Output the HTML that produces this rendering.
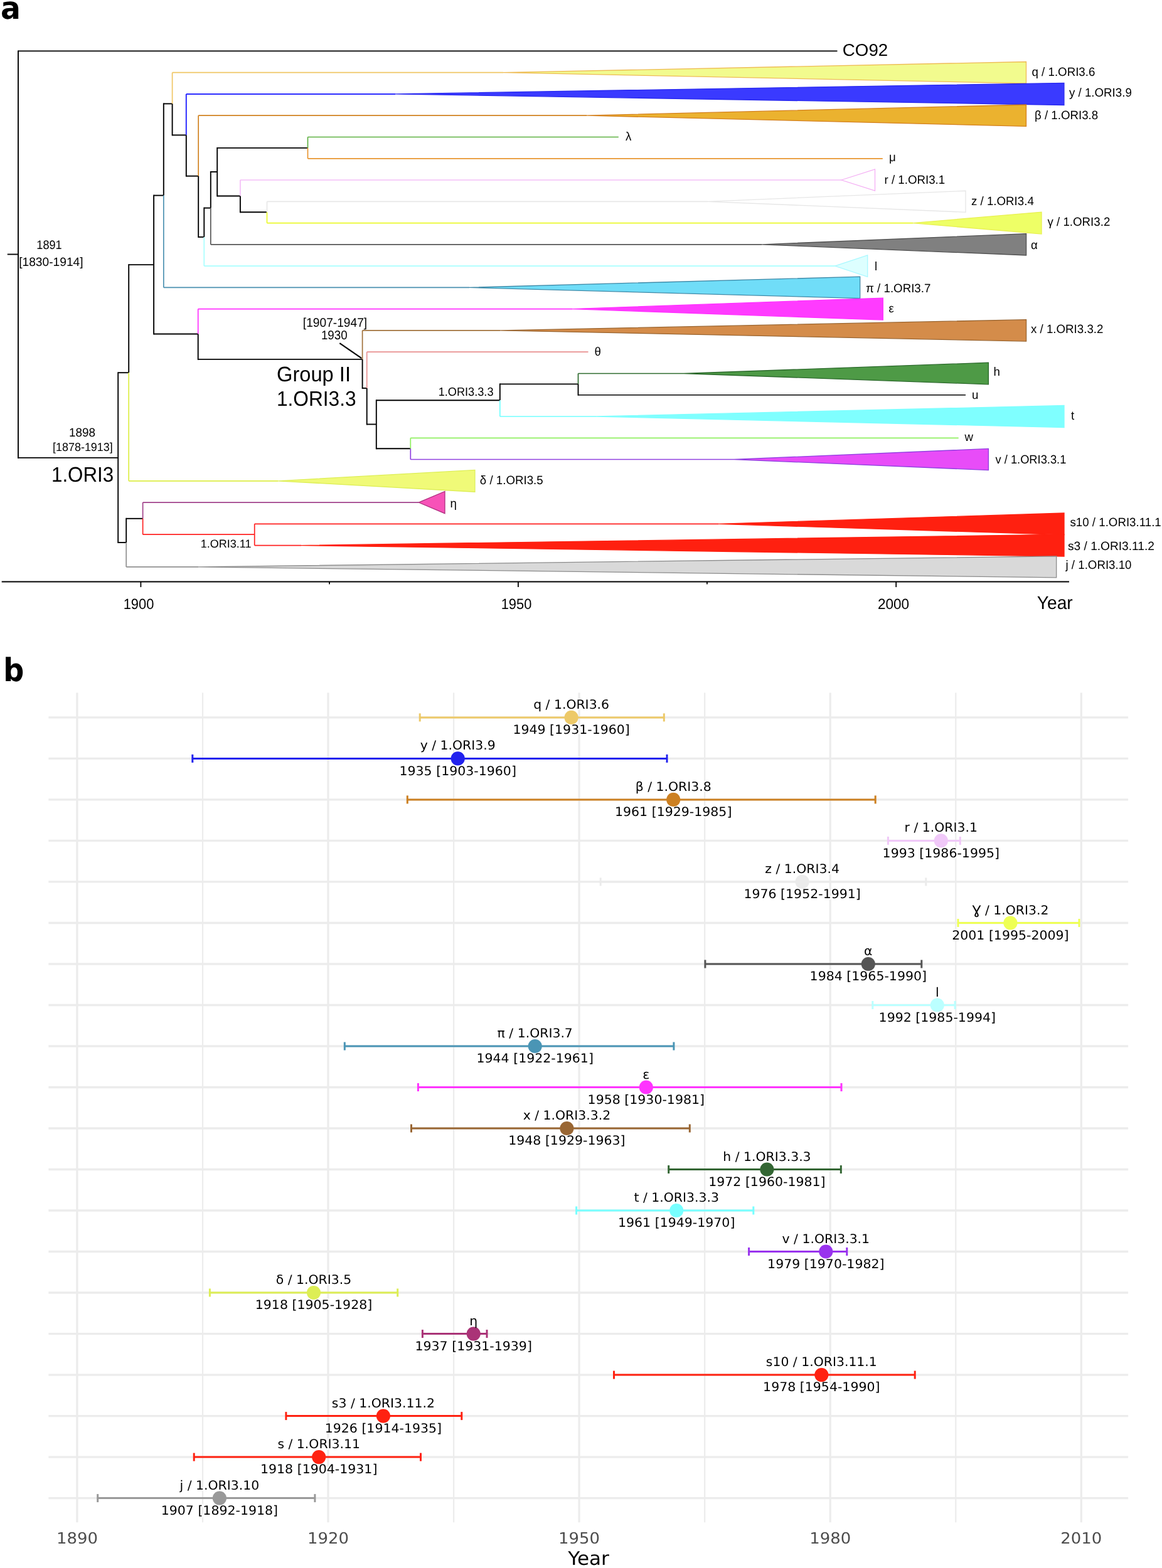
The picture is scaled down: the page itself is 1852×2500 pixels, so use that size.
<!DOCTYPE html>
<html><head><meta charset="utf-8"><title>Figure</title>
<style>html,body{margin:0;padding:0;background:#fff;} svg{display:block;} text{text-rendering:geometricPrecision;}</style>
</head><body>
<svg width="1852" height="2500" viewBox="0 0 1852 2500">
<rect width="1852" height="2500" fill="#fff"/>
<g id="panelA">
<polygon points="802.0,115.7 1635.5,98.5 1635.5,132.9" fill="#F2FB8E" stroke="#EEBB55" stroke-width="1.3" stroke-linejoin="miter"/>
<polygon points="630.0,149.9 1695.9,132.3 1695.9,167.5" fill="#3A3AFF" stroke="#2828F0" stroke-width="1.3" stroke-linejoin="miter"/>
<polygon points="935.0,184.2 1635.5,167.0 1635.5,201.4" fill="#EBB22F" stroke="#D4801E" stroke-width="1.3" stroke-linejoin="miter"/>
<polygon points="1341.0,287.0 1394.5,270.0 1394.5,304.0" fill="#FFFFFF" stroke="#F4B0F4" stroke-width="1.3" stroke-linejoin="miter"/>
<polygon points="1128.0,321.3 1539.0,304.3 1539.0,338.3" fill="#FFFFFF" stroke="#E6E6E6" stroke-width="1.3" stroke-linejoin="miter"/>
<polygon points="1455.0,355.6 1660.0,338.1 1660.0,373.1" fill="#EEFF66" stroke="#E8F050" stroke-width="1.3" stroke-linejoin="miter"/>
<polygon points="1214.0,389.8 1635.6,372.6 1635.6,407.0" fill="#808080" stroke="#505050" stroke-width="1.3" stroke-linejoin="miter"/>
<polygon points="1330.7,424.1 1382.7,406.9 1382.7,441.3" fill="#DDFFFF" stroke="#A8F8FF" stroke-width="1.3" stroke-linejoin="miter"/>
<polygon points="748.0,458.4 1370.7,441.2 1370.7,475.6" fill="#70DDF8" stroke="#3F8AA8" stroke-width="1.3" stroke-linejoin="miter"/>
<polygon points="912.0,492.6 1407.3,475.1 1407.3,510.1" fill="#FF3BFF" stroke="#FF30FF" stroke-width="1.3" stroke-linejoin="miter"/>
<polygon points="797.0,526.9 1635.6,509.7 1635.6,544.1" fill="#D48C4A" stroke="#9A6530" stroke-width="1.3" stroke-linejoin="miter"/>
<polygon points="1090.0,595.5 1575.4,578.2 1575.4,612.8" fill="#4E9A46" stroke="#2C6A2C" stroke-width="1.3" stroke-linejoin="miter"/>
<polygon points="950.0,664.0 1696.0,646.5 1696.0,681.5" fill="#7FFFFF" stroke="#7FFFFF" stroke-width="1.3" stroke-linejoin="miter"/>
<polygon points="1170.0,732.5 1575.4,715.4 1575.4,749.6" fill="#E84CF8" stroke="#9040E0" stroke-width="1.3" stroke-linejoin="miter"/>
<polygon points="443.0,766.8 756.9,749.4 756.9,784.2" fill="#F0FA78" stroke="#DDEE55" stroke-width="1.3" stroke-linejoin="miter"/>
<polygon points="667.2,801.1 709.0,783.5 709.0,818.7" fill="#F752B8" stroke="#B03080" stroke-width="1.3" stroke-linejoin="miter"/>
<polygon points="1145.0,835.3 1696.0,818.0 1696.0,852.6" fill="#FF2010" stroke="#FF2010" stroke-width="1.3" stroke-linejoin="miter"/>
<polygon points="480.0,869.6 1696.0,852.1 1696.0,887.1" fill="#FF2010" stroke="#FF2010" stroke-width="1.3" stroke-linejoin="miter"/>
<polygon points="316.0,903.9 1683.7,886.9 1683.7,920.9" fill="#D9D9D9" stroke="#8C8C8C" stroke-width="1.3" stroke-linejoin="miter"/>
<line x1="11.8" y1="405.5" x2="29.0" y2="405.5" stroke="#000" stroke-width="1.9"/>
<line x1="29.0" y1="80.4" x2="29.0" y2="730.9" stroke="#000" stroke-width="1.9"/>
<line x1="29.0" y1="81.4" x2="1334.5" y2="81.4" stroke="#000" stroke-width="1.9"/>
<line x1="29.0" y1="729.9" x2="188.2" y2="729.9" stroke="#000" stroke-width="1.9"/>
<line x1="188.2" y1="593.2" x2="188.2" y2="866.0" stroke="#000" stroke-width="1.9"/>
<line x1="188.2" y1="594.2" x2="205.2" y2="594.2" stroke="#000" stroke-width="1.9"/>
<line x1="205.2" y1="421.1" x2="205.2" y2="594.2" stroke="#000" stroke-width="1.9"/>
<line x1="205.2" y1="594.2" x2="205.2" y2="766.8" stroke="#DDEE44" stroke-width="1.7"/>
<line x1="205.2" y1="766.8" x2="443.0" y2="766.8" stroke="#DDEE44" stroke-width="1.7"/>
<line x1="205.2" y1="422.1" x2="245.1" y2="422.1" stroke="#000" stroke-width="1.9"/>
<line x1="245.1" y1="310.6" x2="245.1" y2="533.5" stroke="#000" stroke-width="1.9"/>
<line x1="245.1" y1="311.6" x2="260.8" y2="311.6" stroke="#000" stroke-width="1.9"/>
<line x1="260.8" y1="164.4" x2="260.8" y2="311.6" stroke="#000" stroke-width="1.9"/>
<line x1="260.8" y1="311.6" x2="260.8" y2="458.4" stroke="#4A90B0" stroke-width="1.7"/>
<line x1="260.8" y1="458.4" x2="748.0" y2="458.4" stroke="#4A90B0" stroke-width="1.7"/>
<line x1="260.8" y1="165.4" x2="274.6" y2="165.4" stroke="#000" stroke-width="1.9"/>
<line x1="274.6" y1="115.7" x2="274.6" y2="165.4" stroke="#EFC664" stroke-width="1.7"/>
<line x1="274.6" y1="165.4" x2="274.6" y2="216.4" stroke="#000" stroke-width="1.9"/>
<line x1="274.6" y1="115.7" x2="802.0" y2="115.7" stroke="#EFC664" stroke-width="1.7"/>
<line x1="274.6" y1="215.4" x2="296.8" y2="215.4" stroke="#000" stroke-width="1.9"/>
<line x1="296.8" y1="149.9" x2="296.8" y2="215.4" stroke="#2B2BFF" stroke-width="2.0"/>
<line x1="296.8" y1="215.4" x2="296.8" y2="281.7" stroke="#000" stroke-width="1.9"/>
<line x1="296.8" y1="149.9" x2="630.0" y2="149.9" stroke="#2B2BFF" stroke-width="2.0"/>
<line x1="296.8" y1="280.7" x2="316.2" y2="280.7" stroke="#000" stroke-width="1.9"/>
<line x1="316.2" y1="184.2" x2="316.2" y2="280.7" stroke="#D0801E" stroke-width="1.7"/>
<line x1="316.2" y1="280.7" x2="316.2" y2="378.9" stroke="#000" stroke-width="1.9"/>
<line x1="316.2" y1="184.2" x2="935.0" y2="184.2" stroke="#D0801E" stroke-width="1.7"/>
<line x1="316.2" y1="377.9" x2="325.3" y2="377.9" stroke="#000" stroke-width="1.9"/>
<line x1="325.3" y1="330.6" x2="325.3" y2="377.9" stroke="#000" stroke-width="1.9"/>
<line x1="325.3" y1="377.9" x2="325.3" y2="424.1" stroke="#A8FFFF" stroke-width="1.7"/>
<line x1="325.3" y1="424.1" x2="1330.7" y2="424.1" stroke="#A8FFFF" stroke-width="1.7"/>
<line x1="325.3" y1="331.6" x2="335.8" y2="331.6" stroke="#000" stroke-width="1.9"/>
<line x1="335.8" y1="273.0" x2="335.8" y2="331.6" stroke="#000" stroke-width="1.9"/>
<line x1="335.8" y1="331.6" x2="335.8" y2="389.8" stroke="#555555" stroke-width="1.7"/>
<line x1="335.8" y1="389.8" x2="1214.0" y2="389.8" stroke="#555555" stroke-width="1.7"/>
<line x1="335.8" y1="274.0" x2="346.2" y2="274.0" stroke="#000" stroke-width="1.9"/>
<line x1="346.2" y1="234.9" x2="346.2" y2="313.5" stroke="#000" stroke-width="1.9"/>
<line x1="346.2" y1="235.9" x2="490.5" y2="235.9" stroke="#000" stroke-width="1.9"/>
<line x1="490.5" y1="218.5" x2="490.5" y2="235.9" stroke="#5DB040" stroke-width="1.7"/>
<line x1="490.5" y1="235.9" x2="490.5" y2="252.8" stroke="#E8952E" stroke-width="1.7"/>
<line x1="490.5" y1="218.5" x2="985.8" y2="218.5" stroke="#5DB040" stroke-width="1.7"/>
<line x1="490.5" y1="252.8" x2="1406.8" y2="252.8" stroke="#E8952E" stroke-width="1.7"/>
<line x1="346.2" y1="312.5" x2="382.9" y2="312.5" stroke="#000" stroke-width="1.9"/>
<line x1="382.9" y1="287.0" x2="382.9" y2="312.5" stroke="#F5BEF8" stroke-width="1.7"/>
<line x1="382.9" y1="312.5" x2="382.9" y2="339.3" stroke="#000" stroke-width="1.9"/>
<line x1="382.9" y1="287.0" x2="1341.0" y2="287.0" stroke="#F5BEF8" stroke-width="1.7"/>
<line x1="382.9" y1="338.3" x2="425.5" y2="338.3" stroke="#000" stroke-width="1.9"/>
<line x1="425.5" y1="321.3" x2="425.5" y2="338.3" stroke="#E8E8E8" stroke-width="1.7"/>
<line x1="425.5" y1="338.3" x2="425.5" y2="355.6" stroke="#EAFA2A" stroke-width="1.7"/>
<line x1="425.5" y1="321.3" x2="1128.0" y2="321.3" stroke="#E8E8E8" stroke-width="1.7"/>
<line x1="425.5" y1="355.6" x2="1455.0" y2="355.6" stroke="#EAFA2A" stroke-width="1.7"/>
<line x1="245.1" y1="532.5" x2="315.7" y2="532.5" stroke="#000" stroke-width="1.9"/>
<line x1="315.7" y1="492.6" x2="315.7" y2="532.5" stroke="#FF30FF" stroke-width="1.7"/>
<line x1="315.7" y1="532.5" x2="315.7" y2="573.9" stroke="#000" stroke-width="1.9"/>
<line x1="315.7" y1="492.6" x2="912.0" y2="492.6" stroke="#FF30FF" stroke-width="1.7"/>
<line x1="315.7" y1="572.9" x2="577.6" y2="572.9" stroke="#000" stroke-width="1.9"/>
<line x1="577.6" y1="526.9" x2="577.6" y2="572.9" stroke="#A0703A" stroke-width="1.7"/>
<line x1="577.6" y1="572.9" x2="577.6" y2="619.9" stroke="#000" stroke-width="1.9"/>
<line x1="577.6" y1="526.9" x2="797.0" y2="526.9" stroke="#A0703A" stroke-width="1.7"/>
<line x1="577.6" y1="618.9" x2="584.7" y2="618.9" stroke="#000" stroke-width="1.9"/>
<line x1="584.7" y1="561.2" x2="584.7" y2="618.9" stroke="#E89090" stroke-width="1.7"/>
<line x1="584.7" y1="618.9" x2="584.7" y2="677.5" stroke="#000" stroke-width="1.9"/>
<line x1="584.7" y1="561.2" x2="937.5" y2="561.2" stroke="#E89090" stroke-width="1.7"/>
<line x1="584.7" y1="676.5" x2="599.8" y2="676.5" stroke="#000" stroke-width="1.9"/>
<line x1="599.8" y1="637.2" x2="599.8" y2="716.3" stroke="#000" stroke-width="1.9"/>
<line x1="599.8" y1="638.2" x2="796.8" y2="638.2" stroke="#000" stroke-width="1.9"/>
<line x1="796.8" y1="611.4" x2="796.8" y2="638.2" stroke="#000" stroke-width="1.9"/>
<line x1="796.8" y1="638.2" x2="796.8" y2="664.0" stroke="#70FFFF" stroke-width="1.7"/>
<line x1="796.8" y1="664.0" x2="950.0" y2="664.0" stroke="#70FFFF" stroke-width="1.7"/>
<line x1="796.8" y1="612.4" x2="921.5" y2="612.4" stroke="#000" stroke-width="1.9"/>
<line x1="921.5" y1="595.5" x2="921.5" y2="612.4" stroke="#2C6A2C" stroke-width="1.7"/>
<line x1="921.5" y1="612.4" x2="921.5" y2="630.7" stroke="#000" stroke-width="1.9"/>
<line x1="921.5" y1="595.5" x2="1090.0" y2="595.5" stroke="#2C6A2C" stroke-width="1.7"/>
<line x1="921.5" y1="629.7" x2="1539.0" y2="629.7" stroke="#000" stroke-width="1.6"/>
<line x1="599.8" y1="715.3" x2="654.3" y2="715.3" stroke="#000" stroke-width="1.9"/>
<line x1="654.3" y1="698.3" x2="654.3" y2="715.3" stroke="#90F060" stroke-width="1.7"/>
<line x1="654.3" y1="715.3" x2="654.3" y2="732.5" stroke="#9040E0" stroke-width="1.7"/>
<line x1="654.3" y1="698.3" x2="1527.7" y2="698.3" stroke="#90F060" stroke-width="1.7"/>
<line x1="654.3" y1="732.5" x2="1170.0" y2="732.5" stroke="#9040E0" stroke-width="1.7"/>
<line x1="188.2" y1="865.0" x2="201.2" y2="865.0" stroke="#000" stroke-width="1.9"/>
<line x1="201.2" y1="825.8" x2="201.2" y2="865.0" stroke="#000" stroke-width="1.9"/>
<line x1="201.2" y1="865.0" x2="201.2" y2="903.9" stroke="#909090" stroke-width="1.7"/>
<line x1="201.2" y1="903.9" x2="316.0" y2="903.9" stroke="#909090" stroke-width="1.7"/>
<line x1="201.2" y1="826.8" x2="227.6" y2="826.8" stroke="#000" stroke-width="1.9"/>
<line x1="227.6" y1="801.1" x2="227.6" y2="826.8" stroke="#A0408A" stroke-width="1.7"/>
<line x1="227.6" y1="826.8" x2="227.6" y2="852.2" stroke="#FF2020" stroke-width="1.7"/>
<line x1="227.6" y1="801.1" x2="667.2" y2="801.1" stroke="#A0408A" stroke-width="1.7"/>
<line x1="227.6" y1="852.2" x2="405.7" y2="852.2" stroke="#FF2020" stroke-width="1.7"/>
<line x1="405.7" y1="835.3" x2="405.7" y2="869.6" stroke="#FF2020" stroke-width="1.7"/>
<line x1="405.7" y1="835.3" x2="1145.0" y2="835.3" stroke="#FF2020" stroke-width="1.7"/>
<line x1="405.7" y1="869.6" x2="480.0" y2="869.6" stroke="#FF2020" stroke-width="1.7"/>
<line x1="541.3" y1="547.2" x2="576.2" y2="571.2" stroke="#000" stroke-width="2.2"/>
<line x1="2.7" y1="927.5" x2="1704.0" y2="927.5" stroke="#000" stroke-width="1.8"/>
<line x1="224.4" y1="927.5" x2="224.4" y2="936.1" stroke="#000" stroke-width="1.8"/>
<line x1="825.9" y1="927.5" x2="825.9" y2="936.1" stroke="#000" stroke-width="1.8"/>
<line x1="1428.2" y1="927.5" x2="1428.2" y2="936.1" stroke="#000" stroke-width="1.8"/>
<line x1="525.0" y1="927.5" x2="525.0" y2="931.6" stroke="#000" stroke-width="1.8"/>
<line x1="1126.9" y1="927.5" x2="1126.9" y2="931.6" stroke="#000" stroke-width="1.8"/>
<text transform="translate(1644.5,121.3) scale(0.975,1)" font-family='"Liberation Sans", Arial, sans-serif' font-size="19.2" text-anchor="start" fill="#000">q / 1.ORI3.6</text>
<text transform="translate(1704.0,154.2) scale(0.975,1)" font-family='"Liberation Sans", Arial, sans-serif' font-size="19.2" text-anchor="start" fill="#000">y / 1.ORI3.9</text>
<text transform="translate(1649.0,190.3) scale(0.975,1)" font-family='"Liberation Sans", Arial, sans-serif' font-size="19.2" text-anchor="start" fill="#000">β / 1.ORI3.8</text>
<text transform="translate(997.0,224.1) scale(0.975,1)" font-family='"Liberation Sans", Arial, sans-serif' font-size="19.2" text-anchor="start" fill="#000">λ</text>
<text transform="translate(1417.0,256.8) scale(0.975,1)" font-family='"Liberation Sans", Arial, sans-serif' font-size="19.2" text-anchor="start" fill="#000">μ</text>
<text transform="translate(1409.5,293.1) scale(0.975,1)" font-family='"Liberation Sans", Arial, sans-serif' font-size="19.2" text-anchor="start" fill="#000">r / 1.ORI3.1</text>
<text transform="translate(1548.0,327.4) scale(0.975,1)" font-family='"Liberation Sans", Arial, sans-serif' font-size="19.2" text-anchor="start" fill="#000">z / 1.ORI3.4</text>
<text transform="translate(1669.5,360.2) scale(0.975,1)" font-family='"Liberation Sans", Arial, sans-serif' font-size="19.2" text-anchor="start" fill="#000">γ / 1.ORI3.2</text>
<text transform="translate(1643.0,397.4) scale(0.975,1)" font-family='"Liberation Sans", Arial, sans-serif' font-size="19.2" text-anchor="start" fill="#000">α</text>
<text transform="translate(1394.0,430.7) scale(0.975,1)" font-family='"Liberation Sans", Arial, sans-serif' font-size="19.2" text-anchor="start" fill="#000">l</text>
<text transform="translate(1380.0,466.0) scale(0.975,1)" font-family='"Liberation Sans", Arial, sans-serif' font-size="19.2" text-anchor="start" fill="#000">π / 1.ORI3.7</text>
<text transform="translate(1416.5,497.5) scale(0.975,1)" font-family='"Liberation Sans", Arial, sans-serif' font-size="19.2" text-anchor="start" fill="#000">ε</text>
<text transform="translate(1643.0,530.8) scale(0.975,1)" font-family='"Liberation Sans", Arial, sans-serif' font-size="19.2" text-anchor="start" fill="#000">x / 1.ORI3.3.2</text>
<text transform="translate(947.5,566.8) scale(0.975,1)" font-family='"Liberation Sans", Arial, sans-serif' font-size="19.2" text-anchor="start" fill="#000">θ</text>
<text transform="translate(1583.5,599.4) scale(0.975,1)" font-family='"Liberation Sans", Arial, sans-serif' font-size="19.2" text-anchor="start" fill="#000">h</text>
<text transform="translate(1549.0,635.9) scale(0.975,1)" font-family='"Liberation Sans", Arial, sans-serif' font-size="19.2" text-anchor="start" fill="#000">u</text>
<text transform="translate(1707.0,668.5) scale(0.975,1)" font-family='"Liberation Sans", Arial, sans-serif' font-size="19.2" text-anchor="start" fill="#000">t</text>
<text transform="translate(1537.5,702.8) scale(0.975,1)" font-family='"Liberation Sans", Arial, sans-serif' font-size="19.2" text-anchor="start" fill="#000">w</text>
<text transform="translate(1586.5,738.6) scale(0.953,1)" font-family='"Liberation Sans", Arial, sans-serif' font-size="19.2" text-anchor="start" fill="#000">v / 1.ORI3.3.1</text>
<text transform="translate(764.8,772.4) scale(0.975,1)" font-family='"Liberation Sans", Arial, sans-serif' font-size="19.2" text-anchor="start" fill="#000">δ / 1.ORI3.5</text>
<text transform="translate(717.5,809.1) scale(0.975,1)" font-family='"Liberation Sans", Arial, sans-serif' font-size="19.2" text-anchor="start" fill="#000">η</text>
<text transform="translate(1705.5,839.1) scale(0.975,1)" font-family='"Liberation Sans", Arial, sans-serif' font-size="19.2" text-anchor="start" fill="#000">s10 / 1.ORI3.11.1</text>
<text transform="translate(1702.0,877.0) scale(0.997,1)" font-family='"Liberation Sans", Arial, sans-serif' font-size="19.2" text-anchor="start" fill="#000">s3 / 1.ORI3.11.2</text>
<text transform="translate(1698.5,906.9) scale(0.975,1)" font-family='"Liberation Sans", Arial, sans-serif' font-size="19.2" text-anchor="start" fill="#000">j / 1.ORI3.10</text>
<text transform="translate(1342.8,89.4) scale(1.020,1)" font-family='"Liberation Sans", Arial, sans-serif' font-size="27.2" text-anchor="start" fill="#000">CO92</text>
<text transform="translate(78.5,397.4) scale(0.920,1)" font-family='"Liberation Sans", Arial, sans-serif' font-size="19.7" text-anchor="middle" fill="#000">1891</text>
<text x="81.4" y="423.8" font-family='"Liberation Sans", Arial, sans-serif' font-size="19.2" text-anchor="middle" fill="#000">[1830-1914]</text>
<text transform="translate(131.0,695.6) scale(0.973,1)" font-family='"Liberation Sans", Arial, sans-serif' font-size="19.4" text-anchor="middle" fill="#000">1898</text>
<text transform="translate(131.9,718.9) scale(0.970,1)" font-family='"Liberation Sans", Arial, sans-serif' font-size="18.5" text-anchor="middle" fill="#000">[1878-1913]</text>
<text transform="translate(82.0,768.4) scale(0.935,1)" font-family='"Liberation Sans", Arial, sans-serif' font-size="33.5" text-anchor="start" fill="#000">1.ORI3</text>
<text transform="translate(534.0,521.0) scale(0.958,1)" font-family='"Liberation Sans", Arial, sans-serif' font-size="20" text-anchor="middle" fill="#000">[1907-1947]</text>
<text transform="translate(532.8,541.0) scale(0.937,1)" font-family='"Liberation Sans", Arial, sans-serif' font-size="20" text-anchor="middle" fill="#000">1930</text>
<text transform="translate(441.0,607.5) scale(0.975,1)" font-family='"Liberation Sans", Arial, sans-serif' font-size="33.5" text-anchor="start" fill="#000">Group II</text>
<text transform="translate(441.0,647.1) scale(0.944,1)" font-family='"Liberation Sans", Arial, sans-serif' font-size="33.5" text-anchor="start" fill="#000">1.ORI3.3</text>
<text transform="translate(742.6,630.6) scale(0.955,1)" font-family='"Liberation Sans", Arial, sans-serif' font-size="19" text-anchor="middle" fill="#000">1.ORI3.3.3</text>
<text x="360.2" y="873.0" font-family='"Liberation Sans", Arial, sans-serif' font-size="18" text-anchor="middle" fill="#000">1.ORI3.11</text>
<text transform="translate(221.0,970.8) scale(0.930,1)" font-family='"Liberation Sans", Arial, sans-serif' font-size="23.5" text-anchor="middle" fill="#000">1900</text>
<text transform="translate(823.0,970.6) scale(0.930,1)" font-family='"Liberation Sans", Arial, sans-serif' font-size="23.5" text-anchor="middle" fill="#000">1950</text>
<text transform="translate(1424.0,970.6) scale(0.960,1)" font-family='"Liberation Sans", Arial, sans-serif' font-size="23.5" text-anchor="middle" fill="#000">2000</text>
<text transform="translate(1652.8,970.8) scale(0.955,1)" font-family='"Liberation Sans", Arial, sans-serif' font-size="29.5" text-anchor="start" fill="#000">Year</text>
<text transform="translate(0.9,29.9) scale(0.955,1)" font-family='"DejaVu Sans", sans-serif' font-size="49.5" text-anchor="start" fill="#000" font-weight="bold">a</text>
</g>
<g id="panelB">
<line x1="323.0" y1="1104.5" x2="323.0" y2="2427.2" stroke="#ECECEC" stroke-width="2.2"/>
<line x1="723.1" y1="1104.5" x2="723.1" y2="2427.2" stroke="#ECECEC" stroke-width="2.2"/>
<line x1="1123.2" y1="1104.5" x2="1123.2" y2="2427.2" stroke="#ECECEC" stroke-width="2.2"/>
<line x1="1523.3" y1="1104.5" x2="1523.3" y2="2427.2" stroke="#ECECEC" stroke-width="2.2"/>
<line x1="122.9" y1="1104.5" x2="122.9" y2="2427.2" stroke="#ECECEC" stroke-width="3.2"/>
<line x1="523.0" y1="1104.5" x2="523.0" y2="2427.2" stroke="#ECECEC" stroke-width="3.2"/>
<line x1="923.1" y1="1104.5" x2="923.1" y2="2427.2" stroke="#ECECEC" stroke-width="3.2"/>
<line x1="1323.2" y1="1104.5" x2="1323.2" y2="2427.2" stroke="#ECECEC" stroke-width="3.2"/>
<line x1="1723.3" y1="1104.5" x2="1723.3" y2="2427.2" stroke="#ECECEC" stroke-width="3.2"/>
<line x1="77.4" y1="1143.9" x2="1798.1" y2="1143.9" stroke="#ECECEC" stroke-width="3.4"/>
<line x1="77.4" y1="1209.4" x2="1798.1" y2="1209.4" stroke="#ECECEC" stroke-width="3.4"/>
<line x1="77.4" y1="1274.9" x2="1798.1" y2="1274.9" stroke="#ECECEC" stroke-width="3.4"/>
<line x1="77.4" y1="1340.4" x2="1798.1" y2="1340.4" stroke="#ECECEC" stroke-width="3.4"/>
<line x1="77.4" y1="1405.9" x2="1798.1" y2="1405.9" stroke="#ECECEC" stroke-width="3.4"/>
<line x1="77.4" y1="1471.5" x2="1798.1" y2="1471.5" stroke="#ECECEC" stroke-width="3.4"/>
<line x1="77.4" y1="1537.0" x2="1798.1" y2="1537.0" stroke="#ECECEC" stroke-width="3.4"/>
<line x1="77.4" y1="1602.5" x2="1798.1" y2="1602.5" stroke="#ECECEC" stroke-width="3.4"/>
<line x1="77.4" y1="1668.0" x2="1798.1" y2="1668.0" stroke="#ECECEC" stroke-width="3.4"/>
<line x1="77.4" y1="1733.5" x2="1798.1" y2="1733.5" stroke="#ECECEC" stroke-width="3.4"/>
<line x1="77.4" y1="1799.0" x2="1798.1" y2="1799.0" stroke="#ECECEC" stroke-width="3.4"/>
<line x1="77.4" y1="1864.5" x2="1798.1" y2="1864.5" stroke="#ECECEC" stroke-width="3.4"/>
<line x1="77.4" y1="1930.0" x2="1798.1" y2="1930.0" stroke="#ECECEC" stroke-width="3.4"/>
<line x1="77.4" y1="1995.5" x2="1798.1" y2="1995.5" stroke="#ECECEC" stroke-width="3.4"/>
<line x1="77.4" y1="2061.0" x2="1798.1" y2="2061.0" stroke="#ECECEC" stroke-width="3.4"/>
<line x1="77.4" y1="2126.6" x2="1798.1" y2="2126.6" stroke="#ECECEC" stroke-width="3.4"/>
<line x1="77.4" y1="2192.1" x2="1798.1" y2="2192.1" stroke="#ECECEC" stroke-width="3.4"/>
<line x1="77.4" y1="2257.6" x2="1798.1" y2="2257.6" stroke="#ECECEC" stroke-width="3.4"/>
<line x1="77.4" y1="2323.1" x2="1798.1" y2="2323.1" stroke="#ECECEC" stroke-width="3.4"/>
<line x1="77.4" y1="2388.6" x2="1798.1" y2="2388.6" stroke="#ECECEC" stroke-width="3.4"/>
<text transform="translate(910.6,1129.9) scale(1.020,1)" font-family='"DejaVu Sans", sans-serif' font-size="20.0" text-anchor="middle" fill="#fff" stroke="#fff" stroke-width="4.4" stroke-linejoin="round">q / 1.ORI3.6</text>
<text transform="translate(910.6,1170.0) scale(1.025,1)" font-family='"DejaVu Sans", sans-serif' font-size="20.0" text-anchor="middle" fill="#fff" stroke="#fff" stroke-width="4.4" stroke-linejoin="round">1949 [1931-1960]</text>
<text transform="translate(729.7,1195.4) scale(1.020,1)" font-family='"DejaVu Sans", sans-serif' font-size="20.0" text-anchor="middle" fill="#fff" stroke="#fff" stroke-width="4.4" stroke-linejoin="round">y / 1.ORI3.9</text>
<text transform="translate(729.7,1235.5) scale(1.025,1)" font-family='"DejaVu Sans", sans-serif' font-size="20.0" text-anchor="middle" fill="#fff" stroke="#fff" stroke-width="4.4" stroke-linejoin="round">1935 [1903-1960]</text>
<text transform="translate(1073.2,1260.9) scale(1.020,1)" font-family='"DejaVu Sans", sans-serif' font-size="20.0" text-anchor="middle" fill="#fff" stroke="#fff" stroke-width="4.4" stroke-linejoin="round">β / 1.ORI3.8</text>
<text transform="translate(1073.2,1301.0) scale(1.025,1)" font-family='"DejaVu Sans", sans-serif' font-size="20.0" text-anchor="middle" fill="#fff" stroke="#fff" stroke-width="4.4" stroke-linejoin="round">1961 [1929-1985]</text>
<text transform="translate(1499.8,1326.4) scale(1.020,1)" font-family='"DejaVu Sans", sans-serif' font-size="20.0" text-anchor="middle" fill="#fff" stroke="#fff" stroke-width="4.4" stroke-linejoin="round">r / 1.ORI3.1</text>
<text transform="translate(1499.8,1366.5) scale(1.025,1)" font-family='"DejaVu Sans", sans-serif' font-size="20.0" text-anchor="middle" fill="#fff" stroke="#fff" stroke-width="4.4" stroke-linejoin="round">1993 [1986-1995]</text>
<text transform="translate(1278.6,1391.9) scale(1.020,1)" font-family='"DejaVu Sans", sans-serif' font-size="20.0" text-anchor="middle" fill="#fff" stroke="#fff" stroke-width="4.4" stroke-linejoin="round">z / 1.ORI3.4</text>
<text transform="translate(1278.6,1432.0) scale(1.025,1)" font-family='"DejaVu Sans", sans-serif' font-size="20.0" text-anchor="middle" fill="#fff" stroke="#fff" stroke-width="4.4" stroke-linejoin="round">1976 [1952-1991]</text>
<text transform="translate(1610.4,1457.5) scale(1.020,1)" font-family='"DejaVu Sans", sans-serif' font-size="20.0" text-anchor="middle" fill="#fff" stroke="#fff" stroke-width="4.4" stroke-linejoin="round">Ɣ / 1.ORI3.2</text>
<text transform="translate(1610.4,1497.5) scale(1.025,1)" font-family='"DejaVu Sans", sans-serif' font-size="20.0" text-anchor="middle" fill="#fff" stroke="#fff" stroke-width="4.4" stroke-linejoin="round">2001 [1995-2009]</text>
<text transform="translate(1383.8,1523.0) scale(1.020,1)" font-family='"DejaVu Sans", sans-serif' font-size="20.0" text-anchor="middle" fill="#fff" stroke="#fff" stroke-width="4.4" stroke-linejoin="round">α</text>
<text transform="translate(1383.8,1563.1) scale(1.025,1)" font-family='"DejaVu Sans", sans-serif' font-size="20.0" text-anchor="middle" fill="#fff" stroke="#fff" stroke-width="4.4" stroke-linejoin="round">1984 [1965-1990]</text>
<text transform="translate(1493.8,1588.5) scale(1.020,1)" font-family='"DejaVu Sans", sans-serif' font-size="20.0" text-anchor="middle" fill="#fff" stroke="#fff" stroke-width="4.4" stroke-linejoin="round">l</text>
<text transform="translate(1493.8,1628.6) scale(1.025,1)" font-family='"DejaVu Sans", sans-serif' font-size="20.0" text-anchor="middle" fill="#fff" stroke="#fff" stroke-width="4.4" stroke-linejoin="round">1992 [1985-1994]</text>
<text transform="translate(852.7,1654.0) scale(1.020,1)" font-family='"DejaVu Sans", sans-serif' font-size="20.0" text-anchor="middle" fill="#fff" stroke="#fff" stroke-width="4.4" stroke-linejoin="round">π / 1.ORI3.7</text>
<text transform="translate(852.7,1694.1) scale(1.025,1)" font-family='"DejaVu Sans", sans-serif' font-size="20.0" text-anchor="middle" fill="#fff" stroke="#fff" stroke-width="4.4" stroke-linejoin="round">1944 [1922-1961]</text>
<text transform="translate(1029.8,1719.5) scale(1.020,1)" font-family='"DejaVu Sans", sans-serif' font-size="20.0" text-anchor="middle" fill="#fff" stroke="#fff" stroke-width="4.4" stroke-linejoin="round">ε</text>
<text transform="translate(1029.8,1759.6) scale(1.025,1)" font-family='"DejaVu Sans", sans-serif' font-size="20.0" text-anchor="middle" fill="#fff" stroke="#fff" stroke-width="4.4" stroke-linejoin="round">1958 [1930-1981]</text>
<text transform="translate(903.4,1785.0) scale(1.020,1)" font-family='"DejaVu Sans", sans-serif' font-size="20.0" text-anchor="middle" fill="#fff" stroke="#fff" stroke-width="4.4" stroke-linejoin="round">x / 1.ORI3.3.2</text>
<text transform="translate(903.4,1825.1) scale(1.025,1)" font-family='"DejaVu Sans", sans-serif' font-size="20.0" text-anchor="middle" fill="#fff" stroke="#fff" stroke-width="4.4" stroke-linejoin="round">1948 [1929-1963]</text>
<text transform="translate(1222.4,1850.5) scale(1.020,1)" font-family='"DejaVu Sans", sans-serif' font-size="20.0" text-anchor="middle" fill="#fff" stroke="#fff" stroke-width="4.4" stroke-linejoin="round">h / 1.ORI3.3.3</text>
<text transform="translate(1222.4,1890.6) scale(1.025,1)" font-family='"DejaVu Sans", sans-serif' font-size="20.0" text-anchor="middle" fill="#fff" stroke="#fff" stroke-width="4.4" stroke-linejoin="round">1972 [1960-1981]</text>
<text transform="translate(1078.2,1916.0) scale(1.020,1)" font-family='"DejaVu Sans", sans-serif' font-size="20.0" text-anchor="middle" fill="#fff" stroke="#fff" stroke-width="4.4" stroke-linejoin="round">t / 1.ORI3.3.3</text>
<text transform="translate(1078.2,1956.1) scale(1.025,1)" font-family='"DejaVu Sans", sans-serif' font-size="20.0" text-anchor="middle" fill="#fff" stroke="#fff" stroke-width="4.4" stroke-linejoin="round">1961 [1949-1970]</text>
<text transform="translate(1316.3,1981.5) scale(1.020,1)" font-family='"DejaVu Sans", sans-serif' font-size="20.0" text-anchor="middle" fill="#fff" stroke="#fff" stroke-width="4.4" stroke-linejoin="round">v / 1.ORI3.3.1</text>
<text transform="translate(1316.3,2021.6) scale(1.025,1)" font-family='"DejaVu Sans", sans-serif' font-size="20.0" text-anchor="middle" fill="#fff" stroke="#fff" stroke-width="4.4" stroke-linejoin="round">1979 [1970-1982]</text>
<text transform="translate(500.0,2047.0) scale(1.020,1)" font-family='"DejaVu Sans", sans-serif' font-size="20.0" text-anchor="middle" fill="#fff" stroke="#fff" stroke-width="4.4" stroke-linejoin="round">δ / 1.ORI3.5</text>
<text transform="translate(500.0,2087.1) scale(1.025,1)" font-family='"DejaVu Sans", sans-serif' font-size="20.0" text-anchor="middle" fill="#fff" stroke="#fff" stroke-width="4.4" stroke-linejoin="round">1918 [1905-1928]</text>
<text transform="translate(754.7,2112.6) scale(1.020,1)" font-family='"DejaVu Sans", sans-serif' font-size="20.0" text-anchor="middle" fill="#fff" stroke="#fff" stroke-width="4.4" stroke-linejoin="round">η</text>
<text transform="translate(754.7,2152.7) scale(1.025,1)" font-family='"DejaVu Sans", sans-serif' font-size="20.0" text-anchor="middle" fill="#fff" stroke="#fff" stroke-width="4.4" stroke-linejoin="round">1937 [1931-1939]</text>
<text transform="translate(1309.3,2178.1) scale(1.020,1)" font-family='"DejaVu Sans", sans-serif' font-size="20.0" text-anchor="middle" fill="#fff" stroke="#fff" stroke-width="4.4" stroke-linejoin="round">s10 / 1.ORI3.11.1</text>
<text transform="translate(1309.3,2218.2) scale(1.025,1)" font-family='"DejaVu Sans", sans-serif' font-size="20.0" text-anchor="middle" fill="#fff" stroke="#fff" stroke-width="4.4" stroke-linejoin="round">1978 [1954-1990]</text>
<text transform="translate(610.9,2243.6) scale(1.020,1)" font-family='"DejaVu Sans", sans-serif' font-size="20.0" text-anchor="middle" fill="#fff" stroke="#fff" stroke-width="4.4" stroke-linejoin="round">s3 / 1.ORI3.11.2</text>
<text transform="translate(610.9,2283.7) scale(1.025,1)" font-family='"DejaVu Sans", sans-serif' font-size="20.0" text-anchor="middle" fill="#fff" stroke="#fff" stroke-width="4.4" stroke-linejoin="round">1926 [1914-1935]</text>
<text transform="translate(508.2,2309.1) scale(1.020,1)" font-family='"DejaVu Sans", sans-serif' font-size="20.0" text-anchor="middle" fill="#fff" stroke="#fff" stroke-width="4.4" stroke-linejoin="round">s / 1.ORI3.11</text>
<text transform="translate(508.2,2349.2) scale(1.025,1)" font-family='"DejaVu Sans", sans-serif' font-size="20.0" text-anchor="middle" fill="#fff" stroke="#fff" stroke-width="4.4" stroke-linejoin="round">1918 [1904-1931]</text>
<text transform="translate(349.9,2374.6) scale(1.020,1)" font-family='"DejaVu Sans", sans-serif' font-size="20.0" text-anchor="middle" fill="#fff" stroke="#fff" stroke-width="4.4" stroke-linejoin="round">j / 1.ORI3.10</text>
<text transform="translate(349.9,2414.7) scale(1.025,1)" font-family='"DejaVu Sans", sans-serif' font-size="20.0" text-anchor="middle" fill="#fff" stroke="#fff" stroke-width="4.4" stroke-linejoin="round">1907 [1892-1918]</text>
<line x1="669.2" y1="1143.9" x2="1058.3" y2="1143.9" stroke="#EDC968" stroke-width="3.0"/>
<line x1="669.2" y1="1137.4" x2="669.2" y2="1150.4" stroke="#EDC968" stroke-width="3.0"/>
<line x1="1058.3" y1="1137.4" x2="1058.3" y2="1150.4" stroke="#EDC968" stroke-width="3.0"/>
<circle cx="910.6" cy="1143.9" r="11.1" fill="#EDC968"/>
<line x1="306.8" y1="1209.4" x2="1063.0" y2="1209.4" stroke="#2222EE" stroke-width="3.0"/>
<line x1="306.8" y1="1202.9" x2="306.8" y2="1215.9" stroke="#2222EE" stroke-width="3.0"/>
<line x1="1063.0" y1="1202.9" x2="1063.0" y2="1215.9" stroke="#2222EE" stroke-width="3.0"/>
<circle cx="729.7" cy="1209.4" r="11.1" fill="#2222EE"/>
<line x1="649.3" y1="1274.9" x2="1395.2" y2="1274.9" stroke="#CC8022" stroke-width="3.0"/>
<line x1="649.3" y1="1268.4" x2="649.3" y2="1281.4" stroke="#CC8022" stroke-width="3.0"/>
<line x1="1395.2" y1="1268.4" x2="1395.2" y2="1281.4" stroke="#CC8022" stroke-width="3.0"/>
<circle cx="1073.2" cy="1274.9" r="11.1" fill="#CC8022"/>
<line x1="1415.4" y1="1340.4" x2="1530.3" y2="1340.4" stroke="#F0C8F8" stroke-width="3.0"/>
<line x1="1415.4" y1="1333.9" x2="1415.4" y2="1346.9" stroke="#F0C8F8" stroke-width="3.0"/>
<line x1="1530.3" y1="1333.9" x2="1530.3" y2="1346.9" stroke="#F0C8F8" stroke-width="3.0"/>
<circle cx="1499.8" cy="1340.4" r="11.1" fill="#F0C8F8"/>
<line x1="957.2" y1="1405.9" x2="1475.8" y2="1405.9" stroke="#EBEBEB" stroke-width="3.0"/>
<line x1="957.2" y1="1399.4" x2="957.2" y2="1412.4" stroke="#EBEBEB" stroke-width="3.0"/>
<line x1="1475.8" y1="1399.4" x2="1475.8" y2="1412.4" stroke="#EBEBEB" stroke-width="3.0"/>
<circle cx="1278.6" cy="1405.9" r="11.1" fill="#EBEBEB"/>
<line x1="1527.0" y1="1471.5" x2="1720.0" y2="1471.5" stroke="#EEFF55" stroke-width="3.0"/>
<line x1="1527.0" y1="1465.0" x2="1527.0" y2="1478.0" stroke="#EEFF55" stroke-width="3.0"/>
<line x1="1720.0" y1="1465.0" x2="1720.0" y2="1478.0" stroke="#EEFF55" stroke-width="3.0"/>
<circle cx="1610.4" cy="1471.5" r="11.1" fill="#EEFF55"/>
<line x1="1123.9" y1="1537.0" x2="1468.8" y2="1537.0" stroke="#555555" stroke-width="3.0"/>
<line x1="1123.9" y1="1530.5" x2="1123.9" y2="1543.5" stroke="#555555" stroke-width="3.0"/>
<line x1="1468.8" y1="1530.5" x2="1468.8" y2="1543.5" stroke="#555555" stroke-width="3.0"/>
<circle cx="1383.8" cy="1537.0" r="11.1" fill="#555555"/>
<line x1="1390.8" y1="1602.5" x2="1522.1" y2="1602.5" stroke="#BBFFFF" stroke-width="3.0"/>
<line x1="1390.8" y1="1596.0" x2="1390.8" y2="1609.0" stroke="#BBFFFF" stroke-width="3.0"/>
<line x1="1522.1" y1="1596.0" x2="1522.1" y2="1609.0" stroke="#BBFFFF" stroke-width="3.0"/>
<circle cx="1493.8" cy="1602.5" r="11.1" fill="#BBFFFF"/>
<line x1="549.3" y1="1668.0" x2="1073.9" y2="1668.0" stroke="#4A95B5" stroke-width="3.0"/>
<line x1="549.3" y1="1661.5" x2="549.3" y2="1674.5" stroke="#4A95B5" stroke-width="3.0"/>
<line x1="1073.9" y1="1661.5" x2="1073.9" y2="1674.5" stroke="#4A95B5" stroke-width="3.0"/>
<circle cx="852.7" cy="1668.0" r="11.1" fill="#4A95B5"/>
<line x1="666.4" y1="1733.5" x2="1341.0" y2="1733.5" stroke="#FF33FF" stroke-width="3.0"/>
<line x1="666.4" y1="1727.0" x2="666.4" y2="1740.0" stroke="#FF33FF" stroke-width="3.0"/>
<line x1="1341.0" y1="1727.0" x2="1341.0" y2="1740.0" stroke="#FF33FF" stroke-width="3.0"/>
<circle cx="1029.8" cy="1733.5" r="11.1" fill="#FF33FF"/>
<line x1="655.5" y1="1799.0" x2="1099.3" y2="1799.0" stroke="#996633" stroke-width="3.0"/>
<line x1="655.5" y1="1792.5" x2="655.5" y2="1805.5" stroke="#996633" stroke-width="3.0"/>
<line x1="1099.3" y1="1792.5" x2="1099.3" y2="1805.5" stroke="#996633" stroke-width="3.0"/>
<circle cx="903.4" cy="1799.0" r="11.1" fill="#996633"/>
<line x1="1065.7" y1="1864.5" x2="1340.3" y2="1864.5" stroke="#336633" stroke-width="3.0"/>
<line x1="1065.7" y1="1858.0" x2="1065.7" y2="1871.0" stroke="#336633" stroke-width="3.0"/>
<line x1="1340.3" y1="1858.0" x2="1340.3" y2="1871.0" stroke="#336633" stroke-width="3.0"/>
<circle cx="1222.4" cy="1864.5" r="11.1" fill="#336633"/>
<line x1="918.6" y1="1930.0" x2="1200.8" y2="1930.0" stroke="#77FFFF" stroke-width="3.0"/>
<line x1="918.6" y1="1923.5" x2="918.6" y2="1936.5" stroke="#77FFFF" stroke-width="3.0"/>
<line x1="1200.8" y1="1923.5" x2="1200.8" y2="1936.5" stroke="#77FFFF" stroke-width="3.0"/>
<circle cx="1078.2" cy="1930.0" r="11.1" fill="#77FFFF"/>
<line x1="1193.6" y1="1995.5" x2="1349.8" y2="1995.5" stroke="#9933EE" stroke-width="3.0"/>
<line x1="1193.6" y1="1989.0" x2="1193.6" y2="2002.0" stroke="#9933EE" stroke-width="3.0"/>
<line x1="1349.8" y1="1989.0" x2="1349.8" y2="2002.0" stroke="#9933EE" stroke-width="3.0"/>
<circle cx="1316.3" cy="1995.5" r="11.1" fill="#9933EE"/>
<line x1="334.4" y1="2061.0" x2="633.7" y2="2061.0" stroke="#DDEE55" stroke-width="3.0"/>
<line x1="334.4" y1="2054.5" x2="334.4" y2="2067.5" stroke="#DDEE55" stroke-width="3.0"/>
<line x1="633.7" y1="2054.5" x2="633.7" y2="2067.5" stroke="#DDEE55" stroke-width="3.0"/>
<circle cx="500.0" cy="2061.0" r="11.1" fill="#DDEE55"/>
<line x1="673.4" y1="2126.6" x2="776.0" y2="2126.6" stroke="#AA3377" stroke-width="3.0"/>
<line x1="673.4" y1="2120.1" x2="673.4" y2="2133.1" stroke="#AA3377" stroke-width="3.0"/>
<line x1="776.0" y1="2120.1" x2="776.0" y2="2133.1" stroke="#AA3377" stroke-width="3.0"/>
<circle cx="754.7" cy="2126.6" r="11.1" fill="#AA3377"/>
<line x1="978.5" y1="2192.1" x2="1458.2" y2="2192.1" stroke="#FF2211" stroke-width="3.0"/>
<line x1="978.5" y1="2185.6" x2="978.5" y2="2198.6" stroke="#FF2211" stroke-width="3.0"/>
<line x1="1458.2" y1="2185.6" x2="1458.2" y2="2198.6" stroke="#FF2211" stroke-width="3.0"/>
<circle cx="1309.3" cy="2192.1" r="11.1" fill="#FF2211"/>
<line x1="455.9" y1="2257.6" x2="735.8" y2="2257.6" stroke="#FF2211" stroke-width="3.0"/>
<line x1="455.9" y1="2251.1" x2="455.9" y2="2264.1" stroke="#FF2211" stroke-width="3.0"/>
<line x1="735.8" y1="2251.1" x2="735.8" y2="2264.1" stroke="#FF2211" stroke-width="3.0"/>
<circle cx="610.9" cy="2257.6" r="11.1" fill="#FF2211"/>
<line x1="309.2" y1="2323.1" x2="670.5" y2="2323.1" stroke="#FF2211" stroke-width="3.0"/>
<line x1="309.2" y1="2316.6" x2="309.2" y2="2329.6" stroke="#FF2211" stroke-width="3.0"/>
<line x1="670.5" y1="2316.6" x2="670.5" y2="2329.6" stroke="#FF2211" stroke-width="3.0"/>
<circle cx="508.2" cy="2323.1" r="11.1" fill="#FF2211"/>
<line x1="155.7" y1="2388.6" x2="501.9" y2="2388.6" stroke="#999999" stroke-width="3.0"/>
<line x1="155.7" y1="2382.1" x2="155.7" y2="2395.1" stroke="#999999" stroke-width="3.0"/>
<line x1="501.9" y1="2382.1" x2="501.9" y2="2395.1" stroke="#999999" stroke-width="3.0"/>
<circle cx="349.9" cy="2388.6" r="11.1" fill="#999999"/>
<text transform="translate(910.6,1129.9) scale(1.020,1)" font-family='"DejaVu Sans", sans-serif' font-size="20.0" text-anchor="middle" fill="#000">q / 1.ORI3.6</text>
<text transform="translate(910.6,1170.0) scale(1.025,1)" font-family='"DejaVu Sans", sans-serif' font-size="20.0" text-anchor="middle" fill="#000">1949 [1931-1960]</text>
<text transform="translate(729.7,1195.4) scale(1.020,1)" font-family='"DejaVu Sans", sans-serif' font-size="20.0" text-anchor="middle" fill="#000">y / 1.ORI3.9</text>
<text transform="translate(729.7,1235.5) scale(1.025,1)" font-family='"DejaVu Sans", sans-serif' font-size="20.0" text-anchor="middle" fill="#000">1935 [1903-1960]</text>
<text transform="translate(1073.2,1260.9) scale(1.020,1)" font-family='"DejaVu Sans", sans-serif' font-size="20.0" text-anchor="middle" fill="#000">β / 1.ORI3.8</text>
<text transform="translate(1073.2,1301.0) scale(1.025,1)" font-family='"DejaVu Sans", sans-serif' font-size="20.0" text-anchor="middle" fill="#000">1961 [1929-1985]</text>
<text transform="translate(1499.8,1326.4) scale(1.020,1)" font-family='"DejaVu Sans", sans-serif' font-size="20.0" text-anchor="middle" fill="#000">r / 1.ORI3.1</text>
<text transform="translate(1499.8,1366.5) scale(1.025,1)" font-family='"DejaVu Sans", sans-serif' font-size="20.0" text-anchor="middle" fill="#000">1993 [1986-1995]</text>
<text transform="translate(1278.6,1391.9) scale(1.020,1)" font-family='"DejaVu Sans", sans-serif' font-size="20.0" text-anchor="middle" fill="#000">z / 1.ORI3.4</text>
<text transform="translate(1278.6,1432.0) scale(1.025,1)" font-family='"DejaVu Sans", sans-serif' font-size="20.0" text-anchor="middle" fill="#000">1976 [1952-1991]</text>
<text transform="translate(1610.4,1457.5) scale(1.020,1)" font-family='"DejaVu Sans", sans-serif' font-size="20.0" text-anchor="middle" fill="#000">Ɣ / 1.ORI3.2</text>
<text transform="translate(1610.4,1497.5) scale(1.025,1)" font-family='"DejaVu Sans", sans-serif' font-size="20.0" text-anchor="middle" fill="#000">2001 [1995-2009]</text>
<text transform="translate(1383.8,1523.0) scale(1.020,1)" font-family='"DejaVu Sans", sans-serif' font-size="20.0" text-anchor="middle" fill="#000">α</text>
<text transform="translate(1383.8,1563.1) scale(1.025,1)" font-family='"DejaVu Sans", sans-serif' font-size="20.0" text-anchor="middle" fill="#000">1984 [1965-1990]</text>
<text transform="translate(1493.8,1588.5) scale(1.020,1)" font-family='"DejaVu Sans", sans-serif' font-size="20.0" text-anchor="middle" fill="#000">l</text>
<text transform="translate(1493.8,1628.6) scale(1.025,1)" font-family='"DejaVu Sans", sans-serif' font-size="20.0" text-anchor="middle" fill="#000">1992 [1985-1994]</text>
<text transform="translate(852.7,1654.0) scale(1.020,1)" font-family='"DejaVu Sans", sans-serif' font-size="20.0" text-anchor="middle" fill="#000">π / 1.ORI3.7</text>
<text transform="translate(852.7,1694.1) scale(1.025,1)" font-family='"DejaVu Sans", sans-serif' font-size="20.0" text-anchor="middle" fill="#000">1944 [1922-1961]</text>
<text transform="translate(1029.8,1719.5) scale(1.020,1)" font-family='"DejaVu Sans", sans-serif' font-size="20.0" text-anchor="middle" fill="#000">ε</text>
<text transform="translate(1029.8,1759.6) scale(1.025,1)" font-family='"DejaVu Sans", sans-serif' font-size="20.0" text-anchor="middle" fill="#000">1958 [1930-1981]</text>
<text transform="translate(903.4,1785.0) scale(1.020,1)" font-family='"DejaVu Sans", sans-serif' font-size="20.0" text-anchor="middle" fill="#000">x / 1.ORI3.3.2</text>
<text transform="translate(903.4,1825.1) scale(1.025,1)" font-family='"DejaVu Sans", sans-serif' font-size="20.0" text-anchor="middle" fill="#000">1948 [1929-1963]</text>
<text transform="translate(1222.4,1850.5) scale(1.020,1)" font-family='"DejaVu Sans", sans-serif' font-size="20.0" text-anchor="middle" fill="#000">h / 1.ORI3.3.3</text>
<text transform="translate(1222.4,1890.6) scale(1.025,1)" font-family='"DejaVu Sans", sans-serif' font-size="20.0" text-anchor="middle" fill="#000">1972 [1960-1981]</text>
<text transform="translate(1078.2,1916.0) scale(1.020,1)" font-family='"DejaVu Sans", sans-serif' font-size="20.0" text-anchor="middle" fill="#000">t / 1.ORI3.3.3</text>
<text transform="translate(1078.2,1956.1) scale(1.025,1)" font-family='"DejaVu Sans", sans-serif' font-size="20.0" text-anchor="middle" fill="#000">1961 [1949-1970]</text>
<text transform="translate(1316.3,1981.5) scale(1.020,1)" font-family='"DejaVu Sans", sans-serif' font-size="20.0" text-anchor="middle" fill="#000">v / 1.ORI3.3.1</text>
<text transform="translate(1316.3,2021.6) scale(1.025,1)" font-family='"DejaVu Sans", sans-serif' font-size="20.0" text-anchor="middle" fill="#000">1979 [1970-1982]</text>
<text transform="translate(500.0,2047.0) scale(1.020,1)" font-family='"DejaVu Sans", sans-serif' font-size="20.0" text-anchor="middle" fill="#000">δ / 1.ORI3.5</text>
<text transform="translate(500.0,2087.1) scale(1.025,1)" font-family='"DejaVu Sans", sans-serif' font-size="20.0" text-anchor="middle" fill="#000">1918 [1905-1928]</text>
<text transform="translate(754.7,2112.6) scale(1.020,1)" font-family='"DejaVu Sans", sans-serif' font-size="20.0" text-anchor="middle" fill="#000">η</text>
<text transform="translate(754.7,2152.7) scale(1.025,1)" font-family='"DejaVu Sans", sans-serif' font-size="20.0" text-anchor="middle" fill="#000">1937 [1931-1939]</text>
<text transform="translate(1309.3,2178.1) scale(1.020,1)" font-family='"DejaVu Sans", sans-serif' font-size="20.0" text-anchor="middle" fill="#000">s10 / 1.ORI3.11.1</text>
<text transform="translate(1309.3,2218.2) scale(1.025,1)" font-family='"DejaVu Sans", sans-serif' font-size="20.0" text-anchor="middle" fill="#000">1978 [1954-1990]</text>
<text transform="translate(610.9,2243.6) scale(1.020,1)" font-family='"DejaVu Sans", sans-serif' font-size="20.0" text-anchor="middle" fill="#000">s3 / 1.ORI3.11.2</text>
<text transform="translate(610.9,2283.7) scale(1.025,1)" font-family='"DejaVu Sans", sans-serif' font-size="20.0" text-anchor="middle" fill="#000">1926 [1914-1935]</text>
<text transform="translate(508.2,2309.1) scale(1.020,1)" font-family='"DejaVu Sans", sans-serif' font-size="20.0" text-anchor="middle" fill="#000">s / 1.ORI3.11</text>
<text transform="translate(508.2,2349.2) scale(1.025,1)" font-family='"DejaVu Sans", sans-serif' font-size="20.0" text-anchor="middle" fill="#000">1918 [1904-1931]</text>
<text transform="translate(349.9,2374.6) scale(1.020,1)" font-family='"DejaVu Sans", sans-serif' font-size="20.0" text-anchor="middle" fill="#000">j / 1.ORI3.10</text>
<text transform="translate(349.9,2414.7) scale(1.025,1)" font-family='"DejaVu Sans", sans-serif' font-size="20.0" text-anchor="middle" fill="#000">1907 [1892-1918]</text>
<text transform="translate(122.9,2460.6) scale(1.050,1)" font-family='"DejaVu Sans", sans-serif' font-size="24.7" text-anchor="middle" fill="#4D4D4D">1890</text>
<text transform="translate(523.0,2460.6) scale(1.050,1)" font-family='"DejaVu Sans", sans-serif' font-size="24.7" text-anchor="middle" fill="#4D4D4D">1920</text>
<text transform="translate(923.1,2460.6) scale(1.050,1)" font-family='"DejaVu Sans", sans-serif' font-size="24.7" text-anchor="middle" fill="#4D4D4D">1950</text>
<text transform="translate(1323.2,2460.6) scale(1.050,1)" font-family='"DejaVu Sans", sans-serif' font-size="24.7" text-anchor="middle" fill="#4D4D4D">1980</text>
<text transform="translate(1723.3,2460.6) scale(1.050,1)" font-family='"DejaVu Sans", sans-serif' font-size="24.7" text-anchor="middle" fill="#4D4D4D">2010</text>
<text transform="translate(938.0,2495.3) scale(1.035,1)" font-family='"DejaVu Sans", sans-serif' font-size="30" text-anchor="middle" fill="#000">Year</text>
<text transform="translate(5.3,1086.4) scale(0.905,1)" font-family='"DejaVu Sans", sans-serif' font-size="51" text-anchor="start" fill="#000" font-weight="bold">b</text>
</g>
</svg>
</body></html>
